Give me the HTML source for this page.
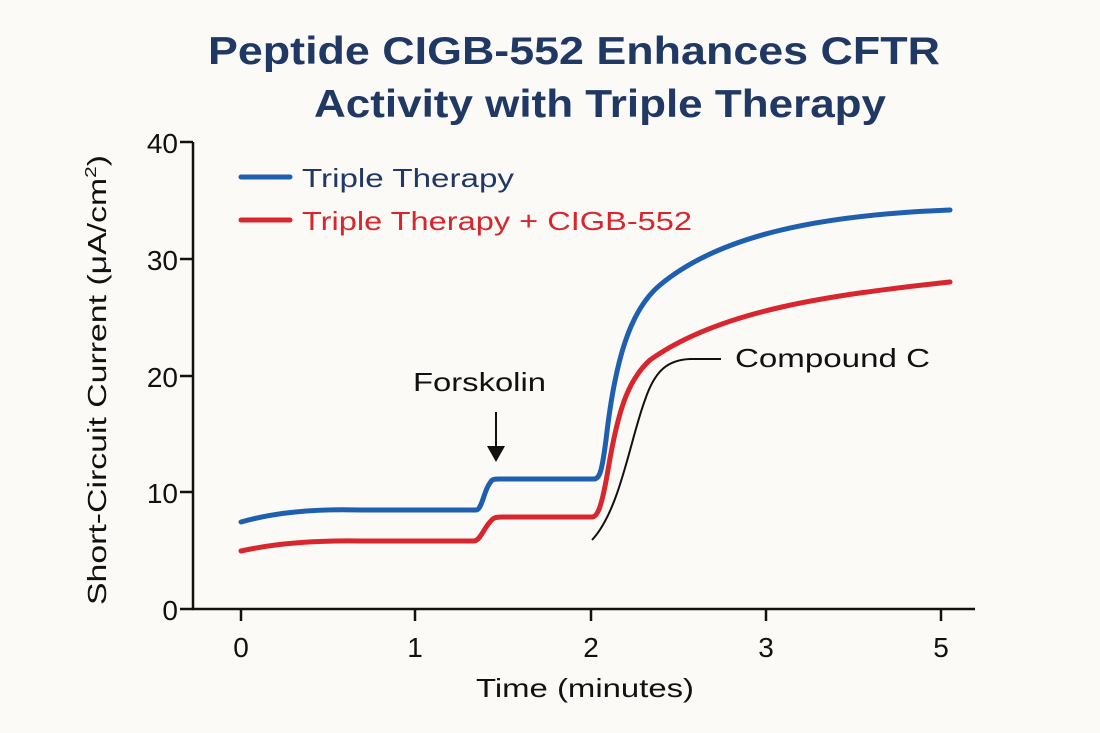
<!DOCTYPE html>
<html><head><meta charset="utf-8"><style>
body{margin:0;background:#fcfaf6;}
svg{display:block;font-family:"Liberation Sans",sans-serif;}
</style></head><body>
<svg width="1100" height="733" viewBox="0 0 1100 733">
<rect width="1100" height="733" fill="#fcfaf6"/>
<text x="208" y="64" font-size="39" font-weight="bold" fill="#1f3864" textLength="732" lengthAdjust="spacingAndGlyphs">Peptide CIGB-552 Enhances CFTR</text>
<text x="314" y="117" font-size="39" font-weight="bold" fill="#1f3864" textLength="572" lengthAdjust="spacingAndGlyphs">Activity with Triple Therapy</text>
<g stroke="#111" stroke-width="2.5" fill="none">
<path d="M193 142 V609 H975"/>
<path d="M180 142H193M180 259H193M180 376H193M180 492H193M180 609H193"/>
<path d="M241 609V621M415 609V621M591 609V621M766 609V621M941 609V621"/>
</g>
<g font-size="28" fill="#111">
<g text-anchor="end"><text x="178" y="153">40</text><text x="178" y="270">30</text><text x="178" y="387">20</text><text x="178" y="503">10</text><text x="178" y="620">0</text></g>
<g text-anchor="middle"><text x="241" y="657">0</text><text x="415" y="657">1</text><text x="591" y="657">2</text><text x="766" y="657">3</text><text x="941" y="657">5</text></g>
<text x="476" y="697" font-size="26" textLength="218" lengthAdjust="spacingAndGlyphs">Time (minutes)</text>
<text transform="translate(106,605) rotate(-90)" font-size="26" textLength="450" lengthAdjust="spacingAndGlyphs">Short-Circuit Current (μA/cm<tspan font-size="16" dy="-10">2</tspan><tspan dy="10">)</tspan></text>
</g>
<g fill="none" stroke-width="5" stroke-linecap="round">
<path stroke="#1f5fb0" d="M241 522 Q290 508 360 510 H476 C482 510 484 490 490 483 C492 479 494 479 500 479 H594 C600 479 602 470 606 440 C615 360 630 310 660 285 C720 235 820 215 950 210"/>
<path stroke="#d7262e" d="M241 551 Q290 540 360 541 H474 C480 541 484 528 490 522 C493 518 495 517 502 517 H592 C598 517 602 505 608 470 C618 410 628 380 650 360 C720 310 830 295 950 282"/>
</g>
<path d="M592 540 C620 510 630 440 645 400 C655 370 668 360 690 359 H721" fill="none" stroke="#111" stroke-width="2"/>
<text x="735" y="367" font-size="26" fill="#111" textLength="195" lengthAdjust="spacingAndGlyphs">Compound C</text>
<text x="413" y="391" font-size="26" fill="#111" textLength="133" lengthAdjust="spacingAndGlyphs">Forskolin</text>
<path d="M496 412V448" stroke="#111" stroke-width="2"/>
<path d="M487 446 L505 446 L496 462 Z" fill="#111"/>
<path d="M241 177H290" stroke="#1f5fb0" stroke-width="5" stroke-linecap="round"/>
<text x="302" y="187" font-size="26" fill="#1f3864" textLength="212" lengthAdjust="spacingAndGlyphs">Triple Therapy</text>
<path d="M241 220H290" stroke="#d7262e" stroke-width="5" stroke-linecap="round"/>
<text x="302" y="230" font-size="26" fill="#d7262e" textLength="390" lengthAdjust="spacingAndGlyphs">Triple Therapy + CIGB-552</text>
</svg>
</body></html>
